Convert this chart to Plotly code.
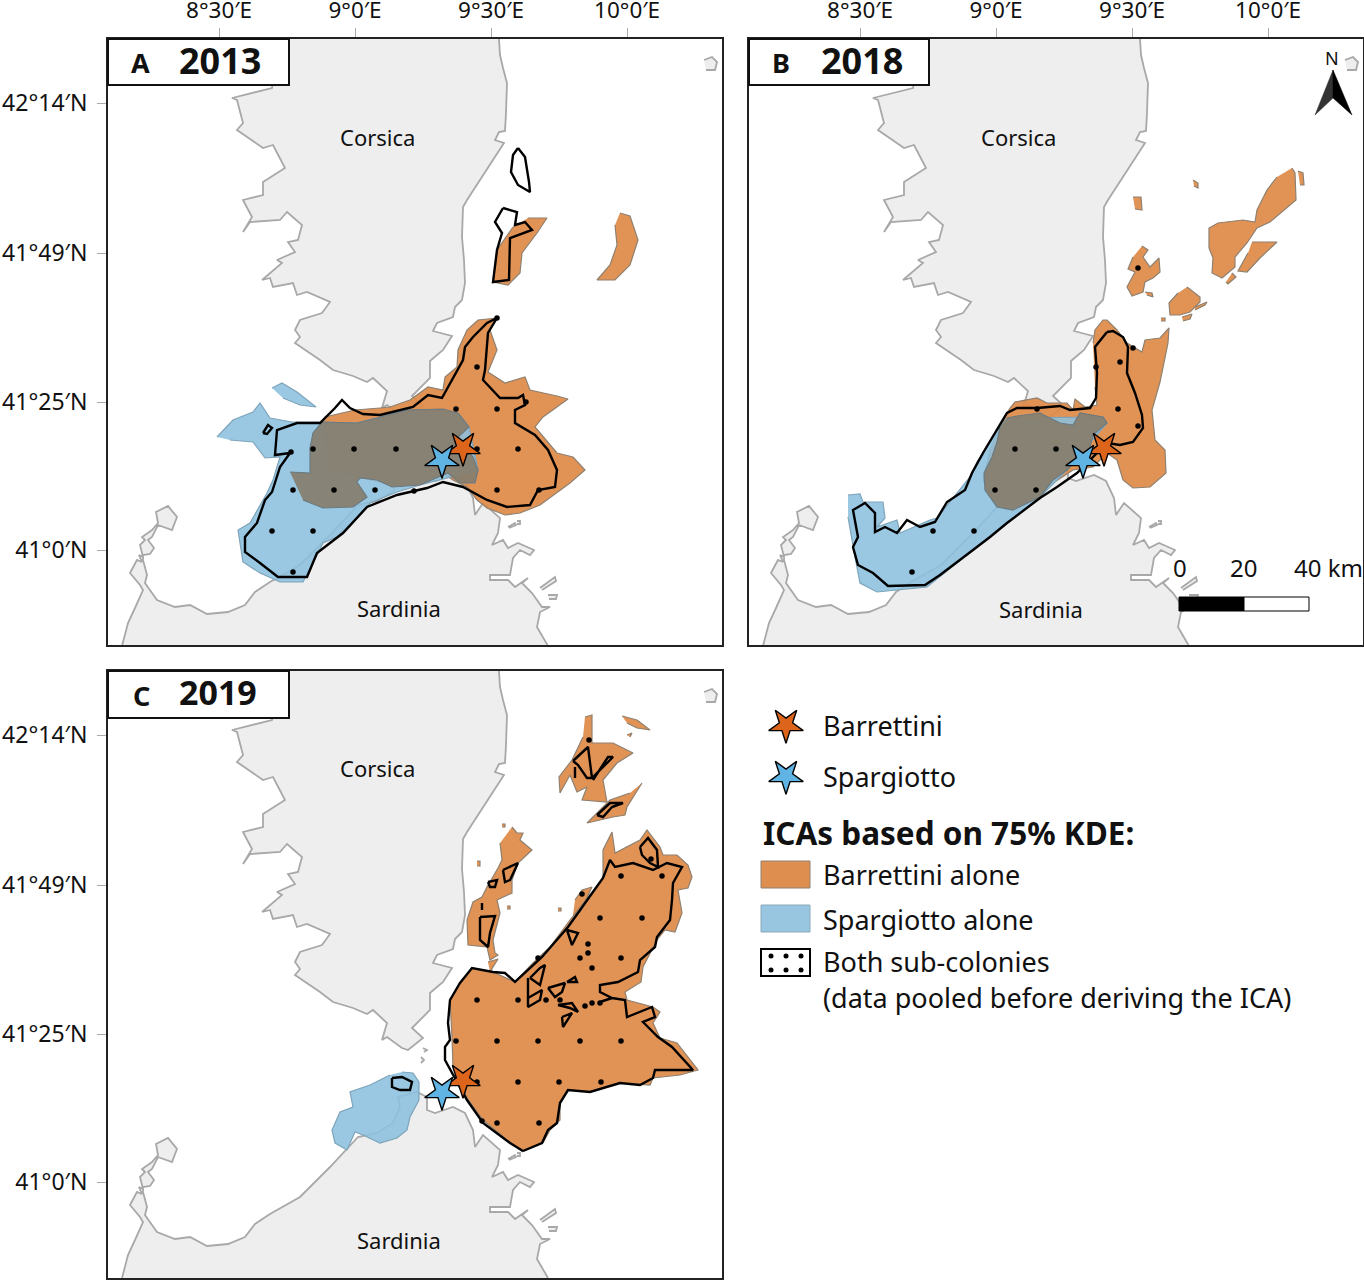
import plotly.graph_objects as go

# map grid units, same grid for all three panels
CORSICA = [(499, 39), (500, 55), (503, 68), (507, 83), (506, 113), (505, 131), (499, 132), (495, 140), (504, 143),
           (485, 172), (467, 200), (463, 207), (462, 237), (464, 260), (465, 283), (462, 300), (455, 307), (453, 317),
           (437, 323), (433, 331), (452, 336), (443, 350), (430, 361), (430, 378), (412, 396), (423, 406), (408, 418),
           (402, 416), (387, 405), (382, 408), (387, 391), (373, 378), (367, 382), (353, 376), (333, 370), (320, 360),
           (295, 343), (300, 337), (295, 330), (300, 320), (322, 313), (330, 302), (307, 292), (297, 295), (293, 283),
           (273, 287), (270, 278), (262, 280), (282, 263), (277, 260), (295, 252), (288, 242), (298, 240), (302, 225),
           (287, 212), (280, 220), (250, 222), (243, 232), (252, 217), (243, 200), (263, 195), (263, 182), (285, 168),
           (273, 145), (263, 148), (237, 130), (243, 123), (237, 100), (232, 98), (272, 88), (280, 39)]
SARDINIA = [(122, 646), (128, 623), (135, 608), (143, 590), (140, 585), (130, 573), (137, 560), (142, 562), (139, 555),
            (143, 557), (140, 545), (145, 540), (142, 537), (152, 530), (158, 523), (156, 512), (168, 506), (177, 517),
            (172, 530), (158, 525), (152, 537), (148, 540), (154, 548), (150, 554), (143, 555), (143, 560), (147, 575),
            (145, 583), (157, 600), (175, 607), (190, 605), (207, 614), (228, 612), (245, 605), (255, 592), (270, 582),
            (300, 565), (330, 535), (358, 505), (377, 501), (393, 491), (400, 475), (398, 465), (417, 460), (427, 465),
            (427, 478), (435, 481), (453, 475), (465, 481), (473, 498), (475, 515), (483, 503), (500, 518), (498, 533),
            (492, 545), (503, 540), (508, 548), (518, 543), (534, 550), (530, 555), (520, 550), (513, 558), (510, 575),
            (490, 575), (490, 580), (508, 580), (515, 587), (528, 578), (522, 583), (532, 593), (542, 607), (550, 607),
            (540, 612), (537, 627), (548, 646)]
ISLETS = [[(704, 60), (712, 57), (717, 62), (715, 70), (706, 70)],
          [(540, 588), (555, 577), (556, 581), (542, 590)],
          [(548, 595), (557, 595), (556, 599), (549, 599)],
          [(508, 527), (515, 523), (516, 525), (509, 528)],
          [(517, 521), (520, 521), (520, 524), (517, 524)],
          [(423, 416), (427, 418), (424, 420)],
          [(421, 425), (424, 428), (421, 431)]]

A_ORANGE = [[(497, 318), (478, 320), (467, 330), (458, 350), (457, 367), (445, 377), (443, 390), (428, 387), (410, 400),
             (390, 407), (380, 408), (355, 410), (325, 417), (322, 422), (330, 470), (400, 487), (417, 483), (443, 473),
             (453, 480), (467, 487), (477, 500), (487, 508), (505, 515), (520, 513), (540, 505), (557, 492), (570, 483),
             (585, 470), (573, 457), (557, 453), (543, 437), (535, 427), (543, 417), (568, 399), (557, 396), (530, 390),
             (525, 377), (505, 383), (488, 372), (497, 350), (490, 330)],
            [(528, 218), (547, 218), (537, 233), (522, 253), (520, 273), (508, 285), (493, 282), (497, 250), (513, 227)],
            [(620, 213), (630, 216), (638, 240), (630, 265), (615, 280), (597, 280), (610, 265), (617, 245), (615, 225)]]
A_BLUE = [[(217, 437), (233, 420), (253, 412), (260, 403), (270, 418), (292, 422), (320, 422), (357, 423), (407, 410),
           (458, 413), (469, 427), (478, 470), (420, 485), (397, 492), (370, 503), (357, 518), (337, 537), (323, 543),
           (313, 563), (303, 582), (280, 582), (260, 573), (243, 562), (238, 530), (250, 523), (267, 493), (273, 480),
           (280, 457), (265, 458), (253, 442), (230, 440)],
          [(272, 388), (282, 383), (297, 392), (316, 407), (300, 405), (283, 398)]]
A_BOTH = [(290, 472), (310, 473), (310, 448), (313, 433), (322, 422), (357, 423), (377, 418), (407, 410), (443, 409),
          (458, 413), (469, 427), (457, 438), (473, 457), (478, 470), (475, 483), (460, 483), (448, 473), (420, 485),
          (392, 487), (377, 480), (360, 478), (357, 482), (367, 497), (353, 507), (323, 508), (303, 500)]
A_POOLED = [[(497, 318), (487, 323), (473, 337), (465, 347), (463, 360), (448, 388), (442, 398), (428, 395), (413, 407),
             (380, 415), (363, 414), (350, 408), (342, 400), (335, 408), (320, 423), (297, 423), (277, 430), (275, 455),
             (290, 453), (280, 467), (272, 492), (265, 500), (257, 523), (245, 537), (245, 552), (260, 563), (278, 577),
             (307, 577), (317, 553), (343, 533), (367, 507), (397, 495), (427, 488), (443, 482), (463, 487), (487, 500),
             (507, 507), (530, 505), (538, 490), (555, 487), (557, 470), (548, 450), (535, 435), (515, 423), (515, 410),
             (525, 405), (523, 395), (518, 398), (500, 398), (483, 380), (485, 370), (488, 333), (497, 318)],
            [(263, 433), (268, 425), (272, 428), (267, 434), (263, 433)],
            [(518, 148), (513, 155), (511, 172), (518, 185), (530, 192), (529, 182), (525, 157), (518, 148)],
            [(503, 208), (517, 212), (515, 225), (525, 222), (532, 230), (510, 238), (509, 280), (493, 282), (497, 250),
             (502, 233), (495, 222), (503, 208)]]
A_DOTS = [(477, 367), (456, 409), (497, 409), (526, 402), (313, 449), (354, 449), (396, 449), (477, 449), (518, 449),
          (291, 452), (293, 490), (334, 490), (375, 490), (414, 491), (497, 490), (539, 490), (272, 531), (313, 531),
          (293, 572), (497, 318)]

B_ORANGE = [[(452, 343), (454, 330), (462, 320), (466, 320), (476, 330), (486, 343), (501, 352), (504, 340), (519, 338),
             (528, 328), (527, 343), (519, 382), (511, 410), (514, 440), (524, 450), (525, 473), (509, 487), (492, 488),
             (482, 480), (476, 460), (466, 453), (452, 467), (432, 470), (406, 487), (386, 500), (366, 507), (349, 497),
             (342, 480), (349, 450), (359, 425), (369, 408), (374, 402), (396, 398), (406, 403), (426, 403), (432, 410),
             (434, 399), (444, 407), (456, 405), (454, 387)],
            [(651, 168), (654, 173), (655, 200), (629, 222), (616, 228), (606, 243), (594, 257), (594, 267), (581, 278),
             (571, 273), (572, 258), (568, 248), (568, 228), (577, 223), (602, 220), (614, 222), (616, 210), (626, 190),
             (636, 177)],
            [(611, 242), (636, 242), (619, 258), (606, 272), (597, 271), (607, 253)],
            [(657, 171), (662, 173), (663, 185), (659, 185)],
            [(552, 180), (557, 183), (557, 188), (553, 186)],
            [(492, 197), (500, 197), (501, 210), (494, 209)],
            [(591, 273), (595, 277), (587, 284), (585, 282)],
            [(501, 246), (507, 250), (502, 257), (509, 267), (518, 258), (519, 272), (512, 278), (504, 282), (502, 292),
             (491, 296), (486, 287), (494, 272), (487, 269), (492, 257)],
            [(504, 292), (511, 293), (512, 297), (506, 295)],
            [(546, 287), (559, 297), (559, 302), (549, 312), (539, 315), (529, 315), (528, 303), (537, 293)],
            [(554, 307), (566, 302), (564, 305), (554, 310)],
            [(541, 317), (551, 314), (549, 319), (542, 321)],
            [(520, 318), (524, 318), (524, 321), (520, 321)]]
B_BLUE = [(207, 495), (219, 494), (222, 502), (242, 502), (244, 518), (236, 527), (256, 520), (259, 533), (289, 520),
          (296, 518), (329, 477), (336, 462), (356, 430), (366, 418), (462, 417), (466, 423), (426, 470), (399, 497),
          (366, 523), (332, 550), (299, 577), (286, 587), (236, 592), (219, 583), (214, 557), (207, 517)]
B_BOTH = [(366, 418), (376, 416), (399, 413), (419, 423), (432, 425), (439, 413), (462, 417), (466, 423), (452, 435),
          (449, 447), (439, 457), (426, 470), (412, 480), (399, 497), (372, 510), (356, 507), (344, 490), (343, 473),
          (351, 457), (356, 442), (359, 427)]
B_POOLED = [[(466, 332), (472, 331), (482, 337), (487, 347), (486, 373), (494, 393), (501, 415), (502, 428), (492, 442),
             (479, 445), (466, 443), (436, 473), (416, 487), (399, 498), (366, 523), (349, 537), (332, 550), (299, 575),
             (284, 585), (247, 586), (232, 573), (217, 565), (212, 547), (217, 537), (212, 510), (224, 503), (234, 513),
             (234, 532), (244, 527), (256, 533), (266, 520), (279, 527), (294, 522), (306, 502), (324, 490), (331, 473),
             (342, 453), (356, 430), (366, 413), (376, 408), (396, 408), (419, 406), (429, 410), (449, 408), (455, 398),
             (456, 373), (454, 347), (466, 332)]]
B_DOTS = [(479, 362), (455, 367), (492, 348), (477, 409), (497, 426), (374, 449), (415, 449), (354, 490), (395, 490),
          (292, 531), (333, 531), (271, 572), (497, 268), (396, 409)]

C_ORANGE = [[(523, 520), (507, 508), (483, 488), (467, 466), (453, 435), (452, 405), (450, 368), (460, 351), (472, 336),
             (493, 340), (515, 350), (533, 331), (550, 315), (570, 288), (603, 246), (603, 218), (612, 200), (615, 221),
             (640, 208), (647, 198), (660, 215), (663, 223), (677, 223), (688, 233), (692, 245), (688, 256), (678, 258),
             (682, 281), (675, 300), (665, 298), (657, 308), (650, 322), (643, 335), (641, 350), (625, 360), (627, 368),
             (653, 375), (660, 380), (653, 391), (660, 406), (677, 411), (698, 438), (680, 443), (653, 446), (650, 453),
             (620, 451), (590, 460), (568, 458), (560, 471), (560, 488), (550, 498), (543, 511)],
            [(512, 195), (517, 201), (523, 201), (520, 208), (532, 218), (518, 231), (512, 248), (512, 261), (497, 268),
             (500, 281), (493, 308), (495, 321), (498, 323), (490, 328), (487, 315), (468, 313), (467, 288), (473, 270),
             (482, 265), (487, 255), (498, 236), (502, 228), (500, 211)],
            [(585, 85), (592, 83), (592, 100), (592, 111), (613, 111), (633, 121), (617, 131), (603, 148), (607, 170),
             (582, 168), (587, 155), (577, 160), (570, 143), (560, 161), (559, 145), (572, 128), (583, 105)],
            [(642, 151), (627, 175), (625, 183), (613, 185), (587, 191), (597, 181), (610, 168), (630, 161)],
            [(622, 84), (637, 88), (650, 98), (637, 96), (627, 91)],
            [(627, 103), (632, 101), (630, 105)],
            [(575, 268), (582, 258), (592, 255), (580, 280), (573, 283)],
            [(502, 192), (505, 192), (505, 195), (502, 195)],
            [(477, 229), (480, 229), (480, 234), (477, 234)],
            [(558, 276), (561, 276), (561, 279), (558, 279)],
            [(507, 274), (510, 274), (510, 277), (507, 277)],
            [(488, 330), (498, 327), (490, 340)]]
C_BLUE = [(402, 440), (413, 441), (419, 450), (419, 468), (410, 485), (407, 498), (397, 506), (380, 511), (363, 503),
          (355, 500), (347, 518), (335, 511), (332, 498), (340, 480), (353, 475), (350, 460), (370, 453), (390, 443)]
C_POOLED = [[(523, 519), (510, 511), (483, 491), (467, 468), (445, 428), (445, 415), (450, 408), (448, 391), (450, 368),
             (460, 351), (472, 336), (493, 340), (505, 341), (515, 350), (542, 325), (550, 316), (568, 295),
             (603, 246), (610, 228), (615, 235), (633, 231), (653, 238), (667, 231), (682, 235), (673, 251), (672, 268),
             (670, 288), (657, 305), (655, 315), (640, 328), (638, 340), (618, 350), (600, 353), (600, 360), (612, 366),
             (600, 370), (612, 366), (625, 368), (627, 385), (652, 375), (655, 385), (643, 390), (658, 405), (672, 415),
             (693, 438), (655, 438), (653, 446), (640, 453), (620, 451), (590, 460), (568, 458), (560, 471), (557, 491),
             (548, 498), (542, 511), (523, 519)],
            [(530, 346), (540, 336), (545, 333), (540, 353), (530, 346)],
            [(528, 346), (528, 366), (542, 358), (540, 368), (528, 375), (528, 366)],
            [(548, 356), (565, 351), (562, 360), (555, 365), (548, 356)],
            [(567, 350), (575, 345), (577, 350), (567, 350)],
            [(558, 373), (572, 371), (578, 380), (570, 376), (558, 373)],
            [(562, 385), (572, 381), (563, 395), (562, 385)],
            [(567, 298), (578, 301), (572, 313), (567, 298)],
            [(640, 215), (648, 206), (657, 218), (658, 235), (650, 231), (642, 223), (640, 215)],
            [(392, 446), (402, 445), (412, 450), (410, 458), (400, 458), (392, 455), (392, 446)],
            [(503, 238), (518, 231), (510, 248), (505, 250), (503, 238)],
            [(488, 250), (497, 248), (495, 255), (490, 255), (488, 250)],
            [(480, 285), (495, 284), (490, 301), (488, 315), (480, 308), (480, 285)],
            [(482, 271), (482, 278)],
            [(573, 129), (588, 115), (592, 146), (587, 146), (578, 133), (573, 129)],
            [(592, 146), (613, 125), (608, 125), (593, 148)],
            [(575, 135), (575, 146)],
            [(597, 183), (610, 171), (623, 171), (612, 175), (603, 185), (597, 183)]]
C_DOTS = [(621, 244), (662, 244), (600, 286), (642, 286), (580, 326), (621, 326), (588, 312), (588, 321), (592, 336),
          (651, 227), (538, 326), (477, 368), (518, 368), (546, 368), (560, 368), (585, 374), (592, 371), (600, 371),
          (456, 409), (497, 409), (538, 409), (580, 409), (621, 409), (477, 450), (518, 450), (559, 450), (601, 450),
          (497, 491), (539, 491), (482, 489), (589, 108), (582, 262)]

BARRETTINI = (463, 448)
SPARGIOTTO = (442, 460)

LON_TICKS = [219, 355, 491, 627]
LON_LABELS = ["8°30′E", "9°0′E", "9°30′E", "10°0′E"]
LAT_TICKS = [103, 253, 402, 550]
LAT_LABELS = ["42°14′N", "41°49′N", "41°25′N", "41°0′N"]

W, H = 1364, 1280
FONT = "Noto Sans"
ORANGE = "rgba(222,138,70,0.92)"
BLUE = "rgba(140,192,222,0.88)"


def xy(rings):
    # flatten list of rings into one x list and one y list for plotly
    xs, ys = [], []
    for r in rings:
        xs += [p[0] for p in r] + [None]
        ys += [p[1] for p in r] + [None]
    return xs, ys


def area(fig, rings, fill, line, width, ax):
    xs, ys = xy(rings)
    fig.add_trace(go.Scatter(x=xs, y=ys, mode="lines", fill="toself", fillcolor=fill,
                             line=dict(color=line, width=width), hoverinfo="skip", xaxis="x" + ax, yaxis="y" + ax))


def panel(fig, ax, orange, blue, both, pooled, dots):
    area(fig, [CORSICA, SARDINIA] + ISLETS, "#eeeeee", "#a8a8a8", 1.8, ax)
    area(fig, orange, ORANGE, "#8f8070", 1.2, ax)
    area(fig, blue, BLUE, "#7ea4ba", 1.2, ax)
    if both:
        area(fig, [both], "rgba(134,126,110,0.94)", "#6b7a80", 1.2, ax)
    xs, ys = xy(pooled)
    fig.add_trace(go.Scatter(x=xs, y=ys, mode="lines", line=dict(color="black", width=2.4),
                             hoverinfo="skip", xaxis="x" + ax, yaxis="y" + ax))
    fig.add_trace(go.Scatter(x=[d[0] for d in dots], y=[d[1] for d in dots], mode="markers",
                             marker=dict(color="black", size=5.5), hoverinfo="skip", xaxis="x" + ax, yaxis="y" + ax))
    for site, col in ((BARRETTINI, "#dd651b"), (SPARGIOTTO, "#5fb4e3")):
        fig.add_trace(go.Scatter(x=[site[0]], y=[site[1]], mode="markers",
                                 marker=dict(symbol="star", angle=180, color=col, size=26,
                                             line=dict(color="black", width=1.4)),
                                 hoverinfo="skip", xaxis="x" + ax, yaxis="y" + ax))


def axes(px0, px1, py0, py1, show_lon, show_lat):
    xa = dict(domain=[px0 / W, px1 / W], range=[108, 722], side="top", tickmode="array", tickvals=LON_TICKS,
              ticktext=LON_LABELS, showticklabels=show_lon, ticks="outside" if show_lon else "", ticklen=9,
              tickcolor="#aaaaaa", tickwidth=1, ticklabelstandoff=1, automargin=False, showgrid=False, zeroline=False,
              showline=True, mirror=True, linecolor="#222222", linewidth=2,
              tickfont=dict(family=FONT, size=22.5, color="#111"))
    ya = dict(domain=[1 - py1 / H, 1 - py0 / H], range=[py1 - py0 + 39, 39], tickmode="array", tickvals=LAT_TICKS,
              ticktext=LAT_LABELS, showticklabels=show_lat, ticks="outside" if show_lat else "", ticklen=9,
              tickcolor="#aaaaaa", tickwidth=1, ticklabelstandoff=5, automargin=False, showgrid=False, zeroline=False,
              showline=True, mirror=True, linecolor="#222222", linewidth=2,
              tickfont=dict(family=FONT, size=23, color="#111"))
    return xa, ya


fig = go.Figure()
panel(fig, "", A_ORANGE, A_BLUE, A_BOTH, A_POOLED, A_DOTS)
panel(fig, "2", B_ORANGE, [B_BLUE], B_BOTH, B_POOLED, B_DOTS)
panel(fig, "3", C_ORANGE, [C_BLUE], None, C_POOLED, C_DOTS)

# page axis: legend, scale bar, north arrow and labels sit on this one
fig.add_trace(go.Scatter(x=[1333, 1315, 1333, 1333], y=[70, 115, 98, 70], mode="lines", fill="toself",
                         fillcolor="#333333", line=dict(color="#333333", width=0.5), hoverinfo="skip",
                         xaxis="x4", yaxis="y4"))
fig.add_trace(go.Scatter(x=[1333, 1352, 1333, 1333], y=[70, 115, 98, 70], mode="lines", fill="toself",
                         fillcolor="black", line=dict(color="black", width=0.5), hoverinfo="skip",
                         xaxis="x4", yaxis="y4"))
fig.add_trace(go.Scatter(x=[786, 786], y=[725, 776], mode="markers",
                         marker=dict(symbol="star", angle=180, color=["#dd651b", "#5fb4e3"], size=26,
                                     line=dict(color="black", width=1.4)),
                         hoverinfo="skip", xaxis="x4", yaxis="y4"))
fig.add_trace(go.Scatter(x=[771, 786, 801, 771, 786, 801], y=[956, 956, 956, 970, 970, 970], mode="markers",
                         marker=dict(color="black", size=5), hoverinfo="skip", xaxis="x4", yaxis="y4"))

xa, ya = axes(108, 722, 39, 645, True, True)
xb, yb = axes(749, 1363, 39, 645, True, False)
xc, yc = axes(108, 722, 671, 1278, False, True)

shapes = []
for x0, x1, y0, y1 in ((108, 289, 39, 85), (749, 929, 39, 85), (108, 289, 671, 718)):
    shapes.append(dict(type="rect", xref="x4", yref="y4", x0=x0, x1=x1, y0=y0, y1=y1,
                       fillcolor="white", line=dict(color="#111111", width=2), layer="above"))
shapes += [
    dict(type="rect", xref="x4", yref="y4", x0=1179, x1=1244, y0=597, y1=611, fillcolor="black",
         line=dict(color="black", width=1), layer="above"),
    dict(type="rect", xref="x4", yref="y4", x0=1244, x1=1309, y0=597, y1=611, fillcolor="white",
         line=dict(color="black", width=1), layer="above"),
    dict(type="rect", xref="x4", yref="y4", x0=761, x1=810, y0=861, y1=888, fillcolor="#de8f50",
         line=dict(color="#8f8070", width=1), layer="below"),
    dict(type="rect", xref="x4", yref="y4", x0=761, x1=810, y0=905, y1=932, fillcolor="#98c6e0",
         line=dict(color="#8aa8ba", width=1), layer="below"),
    dict(type="rect", xref="x4", yref="y4", x0=761, x1=810, y0=949, y1=976, fillcolor="rgba(0,0,0,0)",
         line=dict(color="black", width=2), layer="below"),
]


def label(x, y, text, size, bold=False, anchor="center"):
    return dict(xref="x4", yref="y4", x=x, y=y, text="<b>" + text + "</b>" if bold else text, showarrow=False,
                xanchor=anchor, yanchor="middle", font=dict(family=FONT, size=size, color="#111111"))


notes = [
    label(140, 62, "A", 27, True), label(220, 60, "2013", 36, True),
    label(781, 62, "B", 27, True), label(862, 60, "2018", 36, True),
    label(141, 695, "C", 27, True), label(218, 692, "2019", 34, True),
    label(377, 137, "Corsica", 22), label(1018, 137, "Corsica", 22), label(377, 768, "Corsica", 22),
    label(399, 608, "Sardinia", 22), label(1041, 609, "Sardinia", 22), label(399, 1240, "Sardinia", 22),
    label(1332, 58, "N", 18),
    label(1180, 567, "0", 24), label(1243, 567, "20", 24), label(1328, 567, "40 km", 24),
    label(821, 725, "Barrettini", 27, anchor="left"),
    label(821, 776, "Spargiotto", 27, anchor="left"),
    label(761, 832, "ICAs based on 75% KDE:", 31.5, True, "left"),
    label(821, 874, "Barrettini alone", 27, anchor="left"),
    label(821, 919, "Spargiotto alone", 27, anchor="left"),
    label(821, 961, "Both sub-colonies", 27, anchor="left"),
    label(821, 997, "(data pooled before deriving the ICA)", 27, anchor="left"),
]

fig.update_layout(
    width=W, height=H, autosize=False, margin=dict(l=0, r=0, t=0, b=0), showlegend=False,
    paper_bgcolor="white", plot_bgcolor="rgba(0,0,0,0)",
    xaxis=xa, yaxis=ya, xaxis2=dict(xb, anchor="y2"), yaxis2=dict(yb, anchor="x2"),
    xaxis3=dict(xc, anchor="y3"), yaxis3=dict(yc, anchor="x3"),
    xaxis4=dict(domain=[0, 1], range=[0, W], visible=False, anchor="y4"),
    yaxis4=dict(domain=[0, 1], range=[H, 0], visible=False, anchor="x4"),
    shapes=shapes, annotations=notes,
)

fig.write_html("out.html", config=dict(displayModeBar=False), post_script="document.body.style.margin='0';")
